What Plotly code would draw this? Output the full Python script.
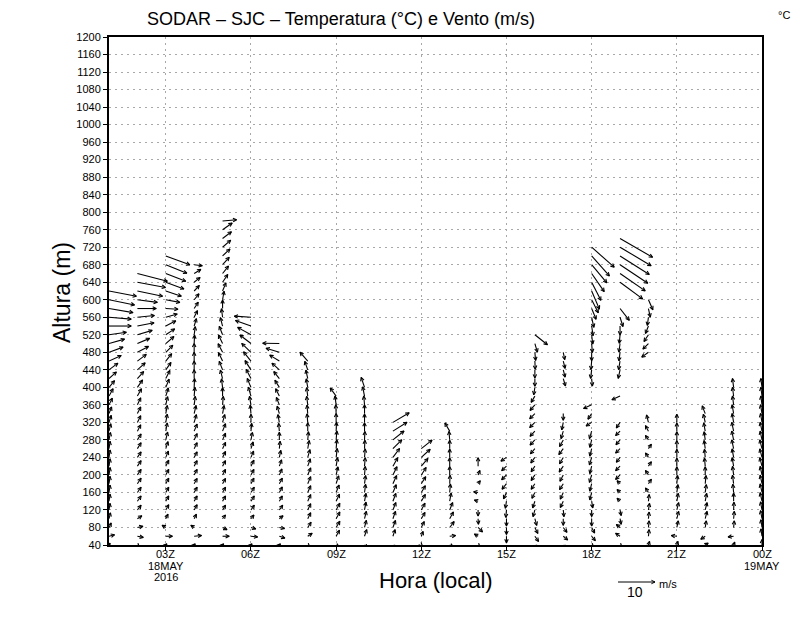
import numpy as np
import plotly.graph_objects as go

# SODAR SJC, 18 May 2016 - hourly wind profiles
# u / v components (m/s), one value every 20 m starting at 40 m, None = no data
base_height = 40
height_step = 20

u01 = [0.3, 1.5, 0.6, 0.4, 0.3, 0.3, 0.3, 0.3, 0.3, 0.3, 0.3, 0.3, 0.4, 0.5, 0.6, 0.7, 0.9, 1.1, 1.5, 2.0, 2.4, 3.3, 3.8, 4.2, 4.7, 6.0, 6.0, 6.5, 6.9, 7.4]
v01 = [0.5, 0.4, 1.2, 1.6, 1.8, 1.9, 2.0, 2.0, 2.0, 2.0, 2.0, 2.0, 2.0, 2.0, 1.9, 1.8, 1.8, 2.0, 1.8, 1.8, 1.8, 1.5, 1.4, 1.2, 0.7, 0.0, -0.5, -1.1, -1.4, -1.4]

u02 = [0.5, 1.6, 1.5, 1.2, 1.0, 1.0, 1.0, 1.0, 1.0, 1.0, 1.0, 1.0, 1.0, 0.9, 0.9, 0.9, 0.9, 1.1, 1.4, 1.7, 2.1, 2.4, 3.0, 3.3, 4.0, 4.5, 4.6, 5.1, 5.4, 6.8, 7.6, 8.1]
v02 = [-0.5, -0.3, 0.3, 0.8, 1.3, 1.4, 1.4, 1.5, 1.5, 1.5, 1.5, 1.6, 1.6, 1.7, 1.8, 1.8, 1.9, 2.0, 2.0, 1.9, 1.9, 1.8, 1.6, 1.4, 1.2, 0.9, 0.5, 0.0, -0.7, -1.4, -1.4, -2.1]

u03 = [0.3, 1.8, -1.0, 0.6, 0.8, 0.8, 0.8, 0.8, 0.8, 0.8, 0.7, 0.6, 0.5, 0.4, 0.4, 0.4, 0.5, 0.7, 0.9, 1.1, 1.4, 1.6, 1.9, 2.2, 2.4, 2.7, 3.1, 3.3, 3.8, 4.2, 4.9, 5.4, 5.7, 6.5]
v03 = [0.3, 0.0, 0.6, 1.2, 1.4, 1.4, 1.4, 1.5, 1.5, 1.6, 1.7, 1.9, 2.1, 2.2, 2.2, 2.2, 2.2, 2.2, 2.2, 2.2, 2.0, 2.0, 1.9, 1.9, 1.6, 1.4, 0.9, -0.2, -0.7, -1.4, -1.8, -2.1, -2.3, -2.4]

u04 = [0.3, 2.0, -0.9, 0.6, 0.8, 0.8, 0.8, 0.8, 0.8, 0.8, 0.8, 0.8, 0.8, 0.8, 0.6, 0.5, 0.3, 0.2, 0.1, 0.0, 0.0, 0.0, 0.0, 0.1, 0.3, 0.6, 0.9, 1.1, 1.3, 1.4, 1.6, 1.8, 2.2]
v04 = [0.3, 0.2, 0.6, 1.2, 1.4, 1.4, 1.4, 1.4, 1.5, 1.5, 1.5, 1.6, 1.7, 1.9, 2.1, 2.2, 2.3, 2.4, 2.4, 2.4, 2.4, 2.4, 2.4, 2.3, 2.2, 2.0, 1.8, 1.7, 1.6, 1.5, 1.3, 1.1, -0.3]

u05 = [0.3, 1.8, 1.2, 0.8, 0.8, 0.8, 0.8, 0.8, 0.8, 0.8, 0.8, 0.8, 0.8, 0.8, 0.6, 0.4, 0.2, 0.0, -0.3, -0.6, -0.9, -1.1, -1.2, -1.1, -0.9, -0.6, -0.3, 0.0, 0.4, 0.9, 1.4, 1.6, 1.8, 2.0, 2.2, 2.4, 2.6, 3.8]
v05 = [0.3, 0.0, -0.6, 1.0, 1.3, 1.4, 1.4, 1.4, 1.5, 1.5, 1.6, 1.7, 1.8, 2.0, 2.1, 2.2, 2.3, 2.3, 2.3, 2.3, 2.3, 2.3, 2.3, 2.3, 2.3, 2.3, 2.3, 2.3, 2.3, 2.2, 2.1, 2.0, 2.0, 1.9, 1.9, 1.8, 1.8, 0.3]

u06 = [0.3, 1.8, 1.3, 0.8, 0.9, 0.9, 0.9, 0.8, 0.8, 0.8, 0.7, 0.6, 0.4, 0.2, 0.0, -0.2, -0.4, -0.7, -1.0, -1.3, -1.6, -2.0, -2.5, -3.0, -3.6, -4.2, -4.5]
v06 = [0.3, -0.2, -0.4, 1.0, 1.3, 1.4, 1.4, 1.5, 1.5, 1.6, 1.7, 1.8, 2.0, 2.1, 2.2, 2.3, 2.3, 2.4, 2.4, 2.5, 2.5, 2.5, 2.4, 2.3, 2.0, 1.5, 0.3]

u07 = [0.3, 1.5, 1.4, 1.0, 0.9, 0.8, 0.8, 0.8, 0.7, 0.6, 0.4, 0.2, 0.0, -0.2, -0.4, -0.6, -0.8, -1.0, -1.2, -1.5, -2.0, -2.6, -3.6, -4.5]
v07 = [0.3, -0.5, -0.3, 0.8, 1.3, 1.4, 1.5, 1.5, 1.6, 1.7, 1.9, 2.0, 2.1, 2.1, 2.1, 2.0, 2.0, 2.0, 1.9, 1.9, 1.8, 1.6, 1.1, 0.1]

u08 = [0.5, 1.2, 0.9, 0.8, 0.8, 0.8, 0.8, 0.8, 0.8, 0.7, 0.6, 0.4, 0.2, 0.0, -0.2, -0.2, -0.3, -0.3, -0.4, -0.5, -0.8, -2.1]
v08 = [-0.5, 0.8, 1.4, 1.6, 1.7, 1.8, 1.8, 1.9, 1.9, 2.0, 2.1, 2.2, 2.2, 2.3, 2.3, 2.3, 2.3, 2.3, 2.3, 2.3, 2.3, 2.4]

u09 = [0.8, 0.9, 1.0, 1.0, 1.0, 0.9, 0.8, 0.7, 0.5, 0.4, 0.3, 0.2, 0.2, 0.1, 0.0, -0.1, -0.3, -1.6]
v09 = [-0.5, 1.6, 1.7, 1.8, 1.8, 1.9, 2.0, 2.1, 2.2, 2.3, 2.4, 2.4, 2.4, 2.4, 2.4, 2.4, 2.4, 2.2]

u10 = [0.8, 0.6, 0.5, 0.5, 0.4, 0.4, 0.3, 0.3, 0.2, 0.2, 0.2, 0.1, 0.1, 0.0, 0.0, 0.0, -0.2, -0.5, -0.9]
v10 = [-0.8, 1.8, 1.9, 2.0, 2.1, 2.1, 2.2, 2.2, 2.3, 2.3, 2.3, 2.3, 2.3, 2.3, 2.3, 2.4, 2.4, 2.5, 2.7]

u11 = [0.3, 0.6, 0.7, 0.7, 0.8, 0.8, 0.9, 1.0, 1.1, 1.3, 1.8, 2.4, 3.0, 3.8, 4.4]
v11 = [-1.0, 1.8, 1.9, 2.0, 2.0, 2.1, 2.1, 2.2, 2.2, 2.3, 2.4, 2.4, 2.4, 2.4, 2.6]

u12 = [0.3, 0.5, 0.8, 1.0, 1.0, 1.1, 1.1, 1.2, 1.3, 1.8, 2.4, 2.9]
v12 = [-0.3, 1.3, 1.6, 1.7, 1.8, 1.8, 1.8, 1.9, 2.0, 2.1, 2.2, 2.3]

u13 = [1.0, 1.6, 1.2, 1.0, 0.8, 0.4, 0.2, 0.1, 0.0, 0.0, 0.0, 0.0, -0.2, -1.3]
v13 = [-0.5, 0.2, 1.6, 1.8, 2.0, 2.2, 2.3, 2.3, 2.3, 2.3, 2.3, 2.3, 2.3, 2.2]

u14 = [0.5, -1.0, 1.2, 0.1, 0.0, -1.0, -1.2, 0.6, 0.5, 0.0]
v14 = [-0.5, 0.6, -1.2, -1.5, -1.6, 0.3, 0.2, 0.8, 1.2, 2.3]

u15 = [0.0, 0.0, 0.0, 0.0, -0.2, -0.3, -0.8, -1.2, -1.3, -1.3, -1.5]
v15 = [-1.2, -1.8, -1.9, -2.0, -2.0, -1.9, -1.7, -1.5, -1.3, -1.2, -1.0]

u16 = [0.3, 1.0, 0.8, 0.5, -0.5, -0.6, -0.8, -1.0, -1.0, -1.0, -1.1, -1.2, -1.3, -1.3, -1.4, -1.4, -1.3, -1.0, -0.3, 0.0, 0.0, 0.1, 0.2, 0.7, 3.4]
v16 = [-1.0, -1.4, -1.6, -1.8, -1.8, -1.8, -1.6, -1.5, -1.5, -1.5, -1.5, -1.4, -1.4, -1.4, -1.4, -1.4, -1.5, -1.7, -2.0, -2.1, -2.2, -2.2, -2.2, -2.3, -2.7]

u17 = [0.5, 1.2, 1.0, 0.0, 0.2, -0.8, -0.8, -1.0, -0.9, -1.1, -1.0, -1.2, -1.0, -0.6, -0.4, 0.0, None, None, None, 0.6, 0.5, 0.5, 0.4]
v17 = [-1.0, -1.0, -1.3, -1.8, -1.8, -1.7, -1.8, -1.6, -1.7, -1.6, -1.7, -1.6, -1.8, -2.0, -2.0, -1.8, None, None, None, -2.0, -2.0, -2.0, -2.0]

u18 = [0.5, 1.0, 0.8, 0.0, 0.0, 0.3, -0.5, -0.5, -0.6, -0.5, -0.6, -0.5, -0.5, -0.6, -1.5, -1.0, -2.2, None, None, 0.2, -0.3, -0.2, 0.0, 0.2, 0.3, 0.4, 0.6, 1.2, 1.8, 2.1, 2.5, 3.4, 4.1, 4.8, 6.1]
v18 = [-0.5, -1.2, -1.5, -2.0, -1.8, -1.8, -2.0, -2.0, -2.0, -2.0, -2.0, -2.0, -2.0, -2.0, -1.0, -1.5, -1.0, None, None, -2.0, -2.3, -2.3, -2.3, -2.4, -2.5, -2.6, -2.7, -2.9, -3.5, -4.9, -4.9, -4.9, -4.9, -5.4, -5.4]

u19 = [0.5, -1.2, -1.0, 0.3, 0.3, -0.8, -0.8, -0.8, -1.2, -1.2, -1.0, -1.2, -1.1, -1.2, -1.0, None, None, -2.2, None, None, -0.5, -0.4, -0.3, -0.3, -0.2, 0.0, 0.8, 2.5, None, None, 6.1, 6.8, 7.5, 7.9, 8.4, 8.8]
v19 = [-0.5, 0.8, 0.8, -1.5, -1.5, 0.8, 0.8, 0.8, -1.2, -1.2, -1.3, -1.2, -1.3, -1.2, -1.5, None, None, -1.0, None, None, -2.3, -2.3, -2.3, -2.3, -2.3, -2.4, -2.5, -3.2, None, None, -4.5, -4.7, -5.0, -5.0, -5.0, -5.1]

u20 = [0.3, 0.2, 0.2, 0.2, 0.3, 0.2, -0.8, 0.8, -0.8, 0.8, -0.8, 0.8, -0.8, -0.8, -0.5, None, None, None, None, None, None, None, -1.8, -1.5, -1.2, -0.8, -0.3, 0.5, 1.2]
v20 = [1.0, 1.8, 1.8, 1.8, 1.8, 1.8, 1.2, 1.2, 1.2, 1.2, 1.2, 1.2, 1.2, 1.5, 2.0, None, None, None, None, None, None, None, -1.3, -1.5, -1.8, -2.0, -2.2, -2.3, -2.7]

u21 = [0.3, -1.5, 0.4, 0.5, 0.5, 0.4, 0.3, 0.2, 0.0, 0.0, 0.0, 0.0, 0.0, 0.0, 0.0]
v21 = [1.0, 0.2, 1.8, 2.0, 2.0, 2.1, 2.1, 2.2, 2.2, 2.2, 2.2, 2.2, 2.2, 2.2, 2.2]

u22 = [0.8, -1.2, 0.3, 0.5, 0.5, 0.4, 0.3, 0.2, 0.0, -0.2, -0.2, -0.3, -0.3, -0.4, -0.5, -0.8]
v22 = [0.5, -0.8, 1.8, 2.0, 2.0, 2.1, 2.1, 2.2, 2.2, 2.2, 2.2, 2.2, 2.2, 2.2, 2.2, 2.1]

u23 = [0.3, -1.5, 0.2, 0.2, 0.1, 0.0, -0.2, -0.3, -0.3, -0.4, -0.4, -0.5, -0.5, -0.5, -0.4, -0.4, -0.3, -0.3, -0.3]
v23 = [0.8, -0.2, 1.8, 2.0, 2.1, 2.2, 2.2, 2.3, 2.3, 2.3, 2.3, 2.4, 2.4, 2.4, 2.4, 2.4, 2.4, 2.4, 2.4]

u24 = [0.0, -0.3, -0.3, -0.4, -0.4, -0.5, -0.5, -0.5, -0.5, -0.6, -0.6, -0.6, -0.5, -0.5, -0.4, -0.4, -0.3, -0.3, -0.3]
v24 = [1.5, 2.0, 2.1, 2.2, 2.2, 2.3, 2.3, 2.3, 2.3, 2.3, 2.3, 2.4, 2.4, 2.4, 2.4, 2.4, 2.4, 2.4, 2.4]

profiles = [
    (1, u01, v01), (2, u02, v02), (3, u03, v03), (4, u04, v04),
    (5, u05, v05), (6, u06, v06), (7, u07, v07), (8, u08, v08),
    (9, u09, v09), (10, u10, v10), (11, u11, v11), (12, u12, v12),
    (13, u13, v13), (14, u14, v14), (15, u15, v15), (16, u16, v16),
    (17, u17, v17), (18, u18, v18), (19, u19, v19), (20, u20, v20),
    (21, u21, v21), (22, u22, v22), (23, u23, v23), (24, u24, v24),
]

x_ticks = [3, 6, 9, 12, 15, 18, 21, 24]
x_labels = ["03Z<br>18MAY<br>2016", "06Z", "09Z", "12Z", "15Z", "18Z", "21Z", "00Z<br>19MAY"]
y_ticks = list(range(40, 1201, 40))
ref_speed = 10

# geometry in window pixels (the page body adds an 8 px offset)
OFF = 8
W, H = 800, 618
PL, PR, PT, PB = 109, 762, 37, 545      # plot area edges in the window
x_range = [1, 24]
y_range = [40, 1200]
px_h = (PR - PL) / (x_range[1] - x_range[0])
px_m = (PB - PT) / (y_range[1] - y_range[0])
vec_px = 3.7          # pixels per m/s
head_len = 4.0
head_ang = 0.45


def arrow_px(dx, dy):
    # shaft + head in pixel offsets from the tail (y up)
    ang = np.arctan2(dy, dx)
    pts = [(0, 0), (dx, dy), None]
    b1 = (dx + head_len * np.cos(ang + np.pi + head_ang), dy + head_len * np.sin(ang + np.pi + head_ang))
    b2 = (dx + head_len * np.cos(ang + np.pi - head_ang), dy + head_len * np.sin(ang + np.pi - head_ang))
    pts += [b1, (dx, dy), b2, None]
    return pts


xs, ys = [], []
for hour, us, vs in profiles:
    for i, (u, v) in enumerate(zip(us, vs)):
        if u is None or v is None or (u == 0 and v == 0):
            continue
        z = base_height + height_step * i
        for p in arrow_px(u * vec_px, v * vec_px):
            if p is None:
                xs.append(None)
                ys.append(None)
            else:
                xs.append(hour + p[0] / px_h)
                ys.append(z + p[1] / px_m)

fig = go.Figure()
fig.add_trace(go.Scatter(x=xs, y=ys, mode="lines", line=dict(color="black", width=1.1),
                         hoverinfo="skip", showlegend=False))


def to_paper(px, py):
    return (px - PL) / (PR - PL), (PB - py) / (PB - PT)


# reference vector below the plot
sx, sy = 618, 582
ref_pts = arrow_px(ref_speed * vec_px, 0)
for p0, p1 in zip(ref_pts[:-1], ref_pts[1:]):
    if p0 is None or p1 is None:
        continue
    x0, y0 = to_paper(sx + p0[0], sy - p0[1])
    x1, y1 = to_paper(sx + p1[0], sy - p1[1])
    fig.add_shape(type="line", xref="paper", yref="paper", x0=x0, y0=y0, x1=x1, y1=y1,
                  line=dict(color="black", width=1))

font = "Liberation Sans"
annots = [
    dict(text="SODAR – SJC – Temperatura (°C) e Vento (m/s)", px=341, py=19, size=18),
    dict(text="°C", px=784, py=15, size=11),
    dict(text="Hora (local)", px=436, py=580, size=22),
    dict(text="10", px=635, py=592, size=14),
    dict(text="m/s", px=668, py=584, size=11),
]
for a in annots:
    x, y = to_paper(a["px"], a["py"])
    fig.add_annotation(text=a["text"], x=x, y=y, xref="paper", yref="paper",
                       showarrow=False, xanchor="center", yanchor="middle",
                       font=dict(family=font, size=a["size"], color="black"))
x, y = to_paper(62, 293)
fig.add_annotation(text="Altura (m)", x=x, y=y, xref="paper", yref="paper", textangle=-90,
                   showarrow=False, xanchor="center", yanchor="middle",
                   font=dict(family=font, size=23, color="black"))

# time labels under the x ticks, stacked tightly like the original
for hour, lab in zip(x_ticks, x_labels):
    for row, part in enumerate(lab.split("<br>")):
        fig.add_annotation(text=part, x=hour, y=to_paper(0, 554 + 11.5 * row)[1],
                           xref="x", yref="paper", showarrow=False,
                           xanchor="center", yanchor="middle",
                           font=dict(family=font, size=11, color="black"))

axis_common = dict(showline=True, linecolor="black", linewidth=2, mirror=True,
                   ticks="outside", ticklen=4, tickcolor="black", tickwidth=1,
                   showgrid=True, gridcolor="#a8a8a8", gridwidth=1, griddash="2px,4px",
                   zeroline=False, tickfont=dict(family=font, size=11, color="black"))

fig.update_xaxes(range=x_range, tickvals=x_ticks, showticklabels=False, **axis_common)
fig.update_yaxes(range=y_range, tickvals=y_ticks, **axis_common)

fig.update_layout(width=W, height=H,
                  margin=dict(l=PL - OFF, r=W - (PR - OFF), t=PT - OFF, b=H - (PB - OFF)),
                  plot_bgcolor="white", paper_bgcolor="white", showlegend=False)

fig.write_html("out.html")
